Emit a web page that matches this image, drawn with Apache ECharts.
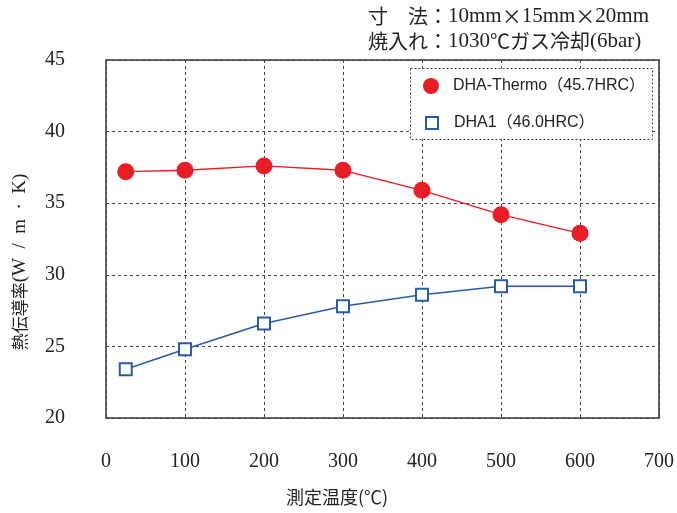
<!DOCTYPE html>
<html><head><meta charset="utf-8">
<script src="https://cdn.jsdelivr.net/npm/echarts@6/dist/echarts.min.js"></script>
<style>html,body{margin:0;padding:0;background:#fff}#c{width:677px;height:513px}</style>
</head><body><div id="c"></div>
<script>
const temps = [25, 100, 200, 300, 400, 500, 600];
const thermoValues = [37.2, 37.3, 37.6, 37.3, 35.9, 34.2, 32.9];
const dha1Values = [23.4, 24.8, 26.6, 27.8, 28.6, 29.2, 29.2];
const seriesNames = ['DHA-Thermo（45.7HRC）', 'DHA1（46.0HRC）'];
const xTitle = '測定温度(℃)';
const yTitleJa = '熱伝導率';
const yTitleUnit = '(W\u2002/\u2002m\u2002·\u2002K)';

const serif = '"Liberation Serif","Noto Sans CJK JP",serif';
const cjk = '"Noto Sans CJK JP",sans-serif';
const sans = '"Liberation Sans","Noto Sans CJK JP",sans-serif';
const red = '#ea1c24', blue = '#2b5ba8';
const chart = echarts.init(document.getElementById('c'), null, {renderer: 'canvas'});
const richNote = {
  c: {fontFamily: cjk, fontSize: 20, fill: '#222'},
  s: {fontFamily: serif, fontSize: 21, fill: '#222'}
};
chart.setOption({
  animation: false,
  backgroundColor: '#fff',
  grid: {left: 106, right: 17, top: 60, bottom: 95, show: true, borderColor: '#333', borderWidth: 1.5, backgroundColor: 'transparent'},
  xAxis: {
    type: 'value', min: 0, max: 700, interval: 100,
    axisLine: {show: false}, axisTick: {show: false},
    axisLabel: {margin: 34, fontSize: 20, color: '#222', fontFamily: serif},
    splitLine: {show: true, lineStyle: {type: [3, 3], color: '#444', width: 1}}
  },
  yAxis: {
    type: 'value', min: 20, max: 45, interval: 5,
    axisLine: {show: false}, axisTick: {show: false},
    axisLabel: {margin: 41, fontSize: 20, color: '#222', fontFamily: serif},
    splitLine: {show: true, lineStyle: {type: [3, 3], color: '#444', width: 1}}
  },
  legend: [
    {
      z: 6, left: 423, top: 78, padding: 0, itemWidth: 16, itemHeight: 16,
      textStyle: {fontSize: 16, color: '#222', fontFamily: sans, padding: [0, 0, 0, 9]},
      data: [{name: seriesNames[0], icon: 'circle', itemStyle: {color: red}}]
    },
    {
      z: 6, left: 425, top: 115, padding: 0, itemWidth: 12, itemHeight: 12,
      textStyle: {fontSize: 16, color: '#222', fontFamily: sans, padding: [0, 0, 0, 11]},
      data: [{name: seriesNames[1], icon: 'rect', itemStyle: {color: '#fff', borderColor: blue, borderWidth: 2}}]
    }
  ],
  series: [
    {
      name: seriesNames[0], type: 'line',
      data: temps.map((t, i) => [t, thermoValues[i]]),
      symbol: 'circle', symbolSize: 17,
      itemStyle: {color: red},
      lineStyle: {color: red, width: 1.3}
    },
    {
      name: seriesNames[1], type: 'line',
      data: temps.map((t, i) => [t, dha1Values[i]]),
      symbol: 'rect', symbolSize: 12,
      itemStyle: {color: '#fff', borderColor: blue, borderWidth: 2},
      lineStyle: {color: blue, width: 1.5}
    }
  ],
  graphic: [
    {type: 'rect', z: 3, shape: {x: 410.5, y: 68.5, width: 242, height: 71},
     style: {fill: '#fff', stroke: '#444', lineWidth: 1, lineDash: [2, 2]}},
    {type: 'text', left: 368, top: 6, style: {text: '{c|寸　法：}{s|10mm}{c|×}{s|15mm}{c|×}{s|20mm}', rich: richNote}},
    {type: 'text', left: 368, top: 31, style: {text: '{c|焼入れ：}{s|1030}{c|℃ガス冷却}{s|(6bar)}', rich: richNote}},
    {type: 'text', x: 337, y: 497, style: {text: xTitle, fontSize: 18, fill: '#222', fontFamily: cjk, align: 'center', verticalAlign: 'middle'}},
    {type: 'text', x: 20, y: 262, rotation: Math.PI / 2, style: {
      text: '{c|' + yTitleJa + '}{s|' + yTitleUnit + '}', align: 'center', verticalAlign: 'middle',
      rich: {c: {fontFamily: cjk, fontSize: 17, fill: '#222'}, s: {fontFamily: serif, fontSize: 19, fill: '#222'}}
    }}
  ]
});
</script></body></html>
